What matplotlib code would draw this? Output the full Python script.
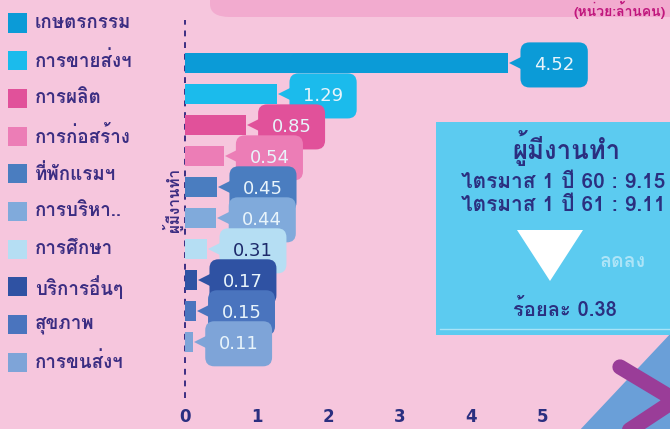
import matplotlib
matplotlib.use("Agg")
import matplotlib.pyplot as plt
from matplotlib import font_manager
from matplotlib.ft2font import FT2Font
from matplotlib.patches import Rectangle, FancyBboxPatch
from matplotlib.lines import Line2D

# -----------------------------------
# Data
# -----------------------------------
categories = ["เกษตรกรรม", "การขายส่งฯ", "การผลิต", "การก่อสร้าง", "ที่พักแรมฯ",
              "การบริหา..", "การศึกษา", "บริการอื่นๆ", "สุขภาพ", "การขนส่งฯ"]
values = [4.52, 1.29, 0.85, 0.54, 0.45, 0.44, 0.31, 0.17, 0.15, 0.11]
colors = ["#0b9bd7", "#1bbbec", "#e1519a", "#ec7db6", "#4a7dc0",
          "#80aadb", "#b5def3", "#2f52a3", "#4a74be", "#7ea4d8"]
label_colors = ["#e8f4fb"] * 6 + ["#1d2a6b"] + ["#e8f4fb"] * 3
xticks = [0, 1, 2, 3, 4, 5]

box_title = "ผู้มีงานทำ"
box_lines = ["ไตรมาส 1 ปี 60 : 9.15", "ไตรมาส 1 ปี 61 : 9.11"]
box_change = "ร้อยละ 0.38"

BG = "#f6c6dd"
NAVY = "#2b2f80"
PURPLE = "#3b2d82"


# find a font that has Thai glyphs, bold if possible
def thai_family():
    found = None
    for entry in font_manager.fontManager.ttflist:
        try:
            ft = FT2Font(entry.fname)
        except Exception:
            continue
        if ft.get_char_index(0x0E01):
            if entry.weight in ("bold", 700) or "Bold" in entry.fname:
                return entry.name
            if found is None:
                found = entry.name
    return found or "DejaVu Sans"


THAI = thai_family()
plt.rcParams["font.family"] = [THAI, "DejaVu Sans"]

W, H = 670, 429
fig = plt.figure(figsize=(W / 100, H / 100), dpi=100, facecolor=BG)


def fx(px):
    return px / W


def fy(py):
    return 1 - py / H


# header band at the top
fig.patches.append(FancyBboxPatch((fx(210), fy(17)), fx(500), 0.1,
                                  boxstyle="round,pad=0,rounding_size=0.03",
                                  transform=fig.transFigure, facecolor="#f2abcf",
                                  edgecolor="none", zorder=0))
fig.text(fx(666), fy(1), "(หน่วย:ล้านคน)", ha="right", va="top",
         fontsize=10, fontweight="bold", color="#c0177d")

# -----------------------------------
# Bar chart
# -----------------------------------
ax = fig.add_axes([fx(170.7), fy(398), fx(650 - 170.7), (398 - 20) / H])
ax.set_facecolor("none")
pos = list(range(len(values)))
ax.barh(pos, values, height=0.65, color=colors, zorder=2)
ax.set_ylim(10.8, -1.4)
ax.set_xlim(-0.2, 6.5)
ax.axvline(0, color=PURPLE, linestyle=(0, (3, 3)), linewidth=1.4, zorder=1)

for i, (v, c, tc) in enumerate(zip(values, colors, label_colors)):
    z = 3 + i
    ax.plot(v + 0.14, i, marker="<", markersize=13, color=c, zorder=z,
            markeredgewidth=0)
    ax.text(v + 0.64, i + 0.05, f"{v:.2f}", ha="center", va="center",
            fontsize=13, color=tc, family="DejaVu Sans", zorder=z + 0.5,
            bbox=dict(boxstyle="round,pad=0.75,rounding_size=0.5",
                      facecolor=c, edgecolor="none"))

ax.set_xticks(xticks)
ax.set_xticklabels([str(t) for t in xticks], fontsize=12, fontweight="bold",
                   color=NAVY, family="DejaVu Sans")
ax.tick_params(axis="x", length=0, pad=7)
ax.set_yticks([])
for s in ax.spines.values():
    s.set_visible(False)

fig.text(fx(172), fy(200), "ผู้มีงานทำ", rotation=90, ha="center", va="center",
         fontsize=11, fontweight="bold", color=PURPLE)

# legend on the left
for i, (name, c) in enumerate(zip(categories, colors)):
    yc = 23 + 37.7 * i
    fig.patches.append(Rectangle((fx(8), fy(yc + 9.5)), fx(19), 19 / H,
                                 transform=fig.transFigure, facecolor=c,
                                 edgecolor="none"))
    fig.text(fx(35), fy(yc), name, ha="left", va="center", fontsize=13.5,
             fontweight="bold", color=PURPLE)

# -----------------------------------
# Info box on the right
# -----------------------------------
fig.patches.append(Rectangle((fx(436), fy(335)), fx(240), (335 - 122) / H,
                             transform=fig.transFigure, facecolor="#5ccbf0",
                             edgecolor="none", zorder=20))
fig.lines.append(Line2D([fx(440), fx(672)], [fy(329), fy(329)],
                        transform=fig.transFigure, color="#a8e3f7",
                        linewidth=1, zorder=21))
fig.text(fx(566), fy(148), box_title, ha="center", va="center", fontsize=18.5,
         fontweight="bold", color=NAVY, zorder=22)
fig.text(fx(563), fy(182), box_lines[0], ha="center", va="center",
         fontsize=15, fontweight="bold", color=NAVY, zorder=22)
fig.text(fx(563), fy(206), box_lines[1], ha="center", va="center",
         fontsize=15, fontweight="bold", color=NAVY, zorder=22)
fig.patches.append(plt.Polygon([(fx(517), fy(230)), (fx(583), fy(230)),
                                (fx(550), fy(281))], closed=True,
                               transform=fig.transFigure, facecolor="white",
                               edgecolor="none", zorder=22))
fig.text(fx(623), fy(262), "ลดลง", ha="center", va="center", fontsize=14,
         fontweight="bold", color="#e4f6fd", alpha=0.6, zorder=22)
fig.text(fx(565), fy(309), box_change, ha="center", va="center", fontsize=14.5,
         fontweight="bold", color=NAVY, zorder=22)

# decoration bottom right
fig.patches.append(plt.Polygon([(fx(578), fy(432)), (fx(672), fy(332)),
                                (fx(672), fy(432))], closed=True,
                               transform=fig.transFigure, facecolor="#6a9fd8",
                               edgecolor="none", zorder=5))
fig.lines.append(Line2D([fx(620), fx(675), fx(622)],
                        [fy(367), fy(400), fy(435)],
                        transform=fig.transFigure, color="#9a3d98",
                        linewidth=11, solid_capstyle="round",
                        solid_joinstyle="miter", zorder=6))

fig.savefig("out.png", dpi=100, facecolor=BG)
